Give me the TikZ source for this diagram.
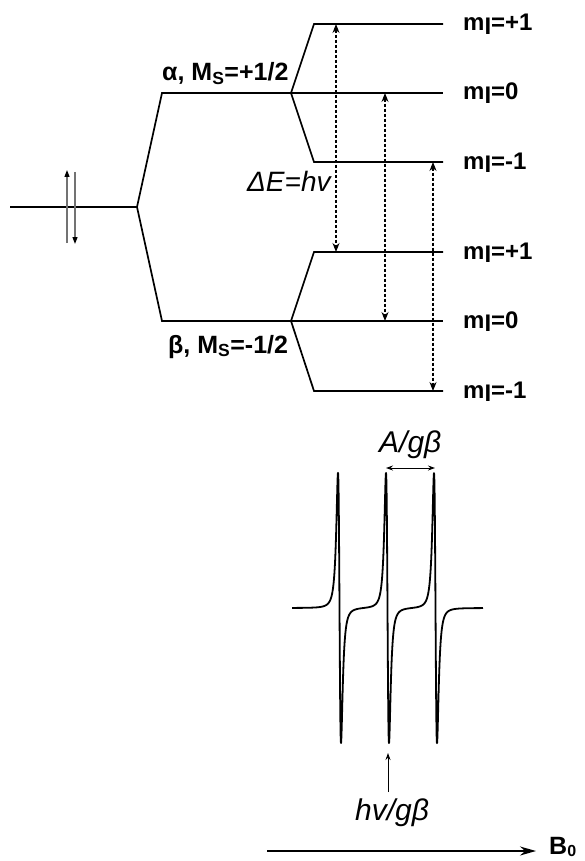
\documentclass[tikz,border=0pt]{standalone}
\usepackage{fontspec}
\setmainfont{Liberation Sans}
\usetikzlibrary{arrows.meta}
\begin{document}
\begin{tikzpicture}[x=1pt,y=-1pt,
  lev/.style={line width=1.7pt},
  trans/.style={line width=1.2pt, dash pattern=on 3pt off 2pt, {Stealth[length=9pt,width=7pt]}-{Stealth[length=9pt,width=7pt]}},
  spin/.style={line width=1.2pt, draw=black!55, -{Triangle[length=7pt,width=5pt,black]}},
  spec/.style={line width=1.8pt, line join=round},
  thin arrow/.style={line width=0.9pt},
  mlab/.style={font=\fontsize{24}{24}\selectfont\bfseries, inner sep=0pt, anchor=base west},
  slab/.style={font=\fontsize{25}{25}\selectfont\bfseries, inner sep=0pt, anchor=base west},
  ilab/.style={font=\fontsize{30}{30}\selectfont\itshape, inner sep=0pt, anchor=base west},
  declare function={ld(\u)=-2*\u/(1+\u*\u)/(1+\u*\u);}
]
\useasboundingbox (0,0) rectangle (585,861);

% levels
\coordinate (g0) at (10,207);
\coordinate (gs) at (137,207);
\coordinate (a0) at (162,93);
\coordinate (as) at (291,93);
\coordinate (ap1) at (314,24);
\coordinate (ap1e) at (443,24);
\coordinate (a0e) at (443,93);
\coordinate (am1) at (314,162);
\coordinate (am1e) at (443,162);
\coordinate (b0) at (162,321);
\coordinate (bs) at (291,321);
\coordinate (bp1) at (314,252);
\coordinate (bp1e) at (443,252);
\coordinate (b0e) at (443,321);
\coordinate (bm1) at (314,391);
\coordinate (bm1e) at (443,391);

\draw[lev] (g0) -- (gs) -- (a0) -- (as) -- (ap1) -- (ap1e);
\draw[lev] (as) -- (a0e);
\draw[lev] (as) -- (am1) -- (am1e);
\draw[lev] (gs) -- (b0) -- (bs) -- (bp1) -- (bp1e);
\draw[lev] (bs) -- (b0e);
\draw[lev] (bs) -- (bm1) -- (bm1e);

% spin arrows
\coordinate (su0) at (67,243);
\coordinate (su1) at (67,170);
\coordinate (sd0) at (75,172);
\coordinate (sd1) at (75,244);
\draw[spin] (su0) -- (su1);
\draw[spin] (sd0) -- (sd1);

% transitions
\coordinate (t1a) at (336,24);
\coordinate (t1b) at (336,252);
\coordinate (t2a) at (385,93);
\coordinate (t2b) at (385,321);
\coordinate (t3a) at (433,162);
\coordinate (t3b) at (433,391);
\draw[trans] (t1a) -- (t1b);
\draw[trans] (t2a) -- (t2b);
\draw[trans] (t3a) -- (t3b);

% labels
\node[mlab] (la1) at (463,31) {m\raisebox{-0.3ex}{I}=+1};
\node[mlab] (la0) at (463,100) {m\raisebox{-0.3ex}{I}=0};
\node[mlab] (lam) at (463,169) {m\raisebox{-0.3ex}{I}=-1};
\node[mlab] (lb1) at (463,259) {m\raisebox{-0.3ex}{I}=+1};
\node[mlab] (lb0) at (463,328) {m\raisebox{-0.3ex}{I}=0};
\node[mlab] (lbm) at (463,398) {m\raisebox{-0.3ex}{I}=-1};
\node[slab] (alpha) at (162,81) {α, M\textsubscript{S}=+1/2};
\node[slab] (beta) at (168,353) {β, M\textsubscript{S}=-1/2};
\node[ilab, font=\fontsize{28}{28}\selectfont\itshape] (dE) at (247,191) {ΔE=hv};

% spectrum
\draw[spec] plot[domain=292:483, samples=1500]
  (\x,{608-208*(ld((\x-339.5)/2.6)+ld((\x-387.5)/2.6)+ld((\x-435.5)/2.6))});

\coordinate (aa) at (386,468);
\coordinate (ab) at (435,468);
\draw[thin arrow, {Stealth[length=7pt,width=5pt]}-{Stealth[length=7pt,width=5pt]}] (aa) -- (ab);
\node[ilab] (Alab) at (379,452) {A/gβ};

\coordinate (ha) at (388,792);
\coordinate (hb) at (388,753);
\draw[thin arrow, -{Stealth[length=7pt,width=5pt]}] (ha) -- (hb);
\node[ilab] (hlab) at (355,820) {hv/gβ};

% field axis
\coordinate (B0a) at (267,851);
\coordinate (B0b) at (536,851);
\draw[line width=1.5pt, -{Stealth[length=16pt,width=9pt]}] (B0a) -- (B0b);
\node[font=\fontsize{25}{25}\selectfont\bfseries, inner sep=0pt, anchor=base west] (B0) at (549,854) {B\raisebox{-0.2ex}{\fontsize{16}{16}\selectfont 0}};
\end{tikzpicture}
\end{document}
